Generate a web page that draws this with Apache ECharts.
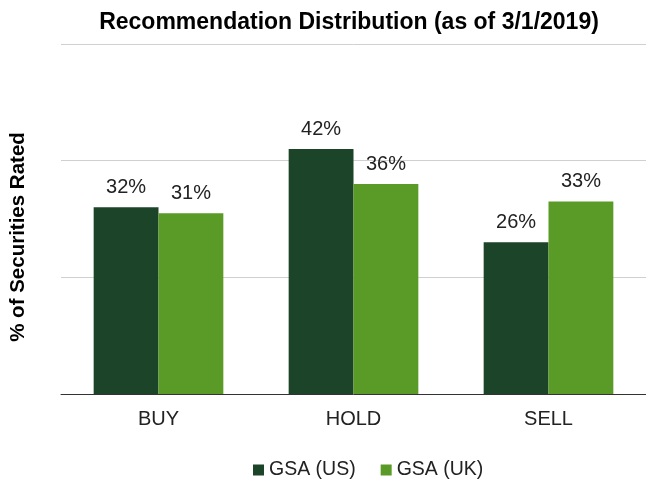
<!DOCTYPE html>
<html><head><meta charset="utf-8">
<script src="https://cdn.jsdelivr.net/npm/echarts@6/dist/echarts.min.js"></script>
<style>html,body{margin:0;padding:0;background:#fff}#c{width:646px;height:479px}</style>
</head><body><div id="c"></div>
<script>
const categories = ['BUY', 'HOLD', 'SELL'];
const seriesNames = ['GSA (US)', 'GSA (UK)'];
const usValues = [32, 42, 26];
const ukValues = [31, 36, 33];
const yTicks = [0, 20, 40, 60];

const FONT = '"Liberation Sans", Arial, sans-serif';
const chart = echarts.init(document.getElementById('c'), null, {renderer: 'canvas'});
const lbl = {show: true, position: 'top', distance: 10, formatter: '{c}%', color: '#222', fontSize: 20, fontFamily: FONT};
chart.setOption({
  animation: false,
  backgroundColor: '#fff',
  title: {
    text: 'Recommendation Distribution (as of 3/1/2019)',
    left: 344, top: 6, textAlign: 'center',
    textStyle: {fontFamily: FONT, fontWeight: 'bold', fontSize: 23, color: '#000'}
  },
  graphic: [{
    type: 'text', x: 18, y: 237, rotation: Math.PI / 2,
    style: {text: '% of Securities Rated', font: 'bold 20.5px ' + FONT, fill: '#000', textAlign: 'center', textVerticalAlign: 'middle'}
  }],
  legend: {
    data: seriesNames, left: 248, top: 455, icon: 'rect', itemWidth: 11, itemHeight: 11, itemGap: 25,
    textStyle: {fontFamily: FONT, fontSize: 19.5, color: '#222'}
  },
  grid: {left: 61, top: 44, width: 591, height: 350, containLabel: false},
  xAxis: {
    type: 'category', data: categories,
    axisLine: {lineStyle: {color: '#333', width: 1}},
    axisTick: {show: false},
    axisLabel: {fontFamily: FONT, fontSize: 20, color: '#222', margin: 15}
  },
  yAxis: {
    type: 'value', min: yTicks[0], max: yTicks[yTicks.length - 1], interval: 20,
    axisLabel: {show: false}, axisLine: {show: false}, axisTick: {show: false},
    splitLine: {lineStyle: {color: '#d0d0d0', width: 1}}
  },
  series: [
    {name: seriesNames[0], type: 'bar', data: usValues, itemStyle: {color: '#1c4429'}, barGap: '0%', barCategoryGap: '33.5%', label: lbl},
    {name: seriesNames[1], type: 'bar', data: ukValues, itemStyle: {color: '#5a9b27'}, barGap: '0%', barCategoryGap: '33.5%', label: lbl}
  ]
});
</script></body></html>
